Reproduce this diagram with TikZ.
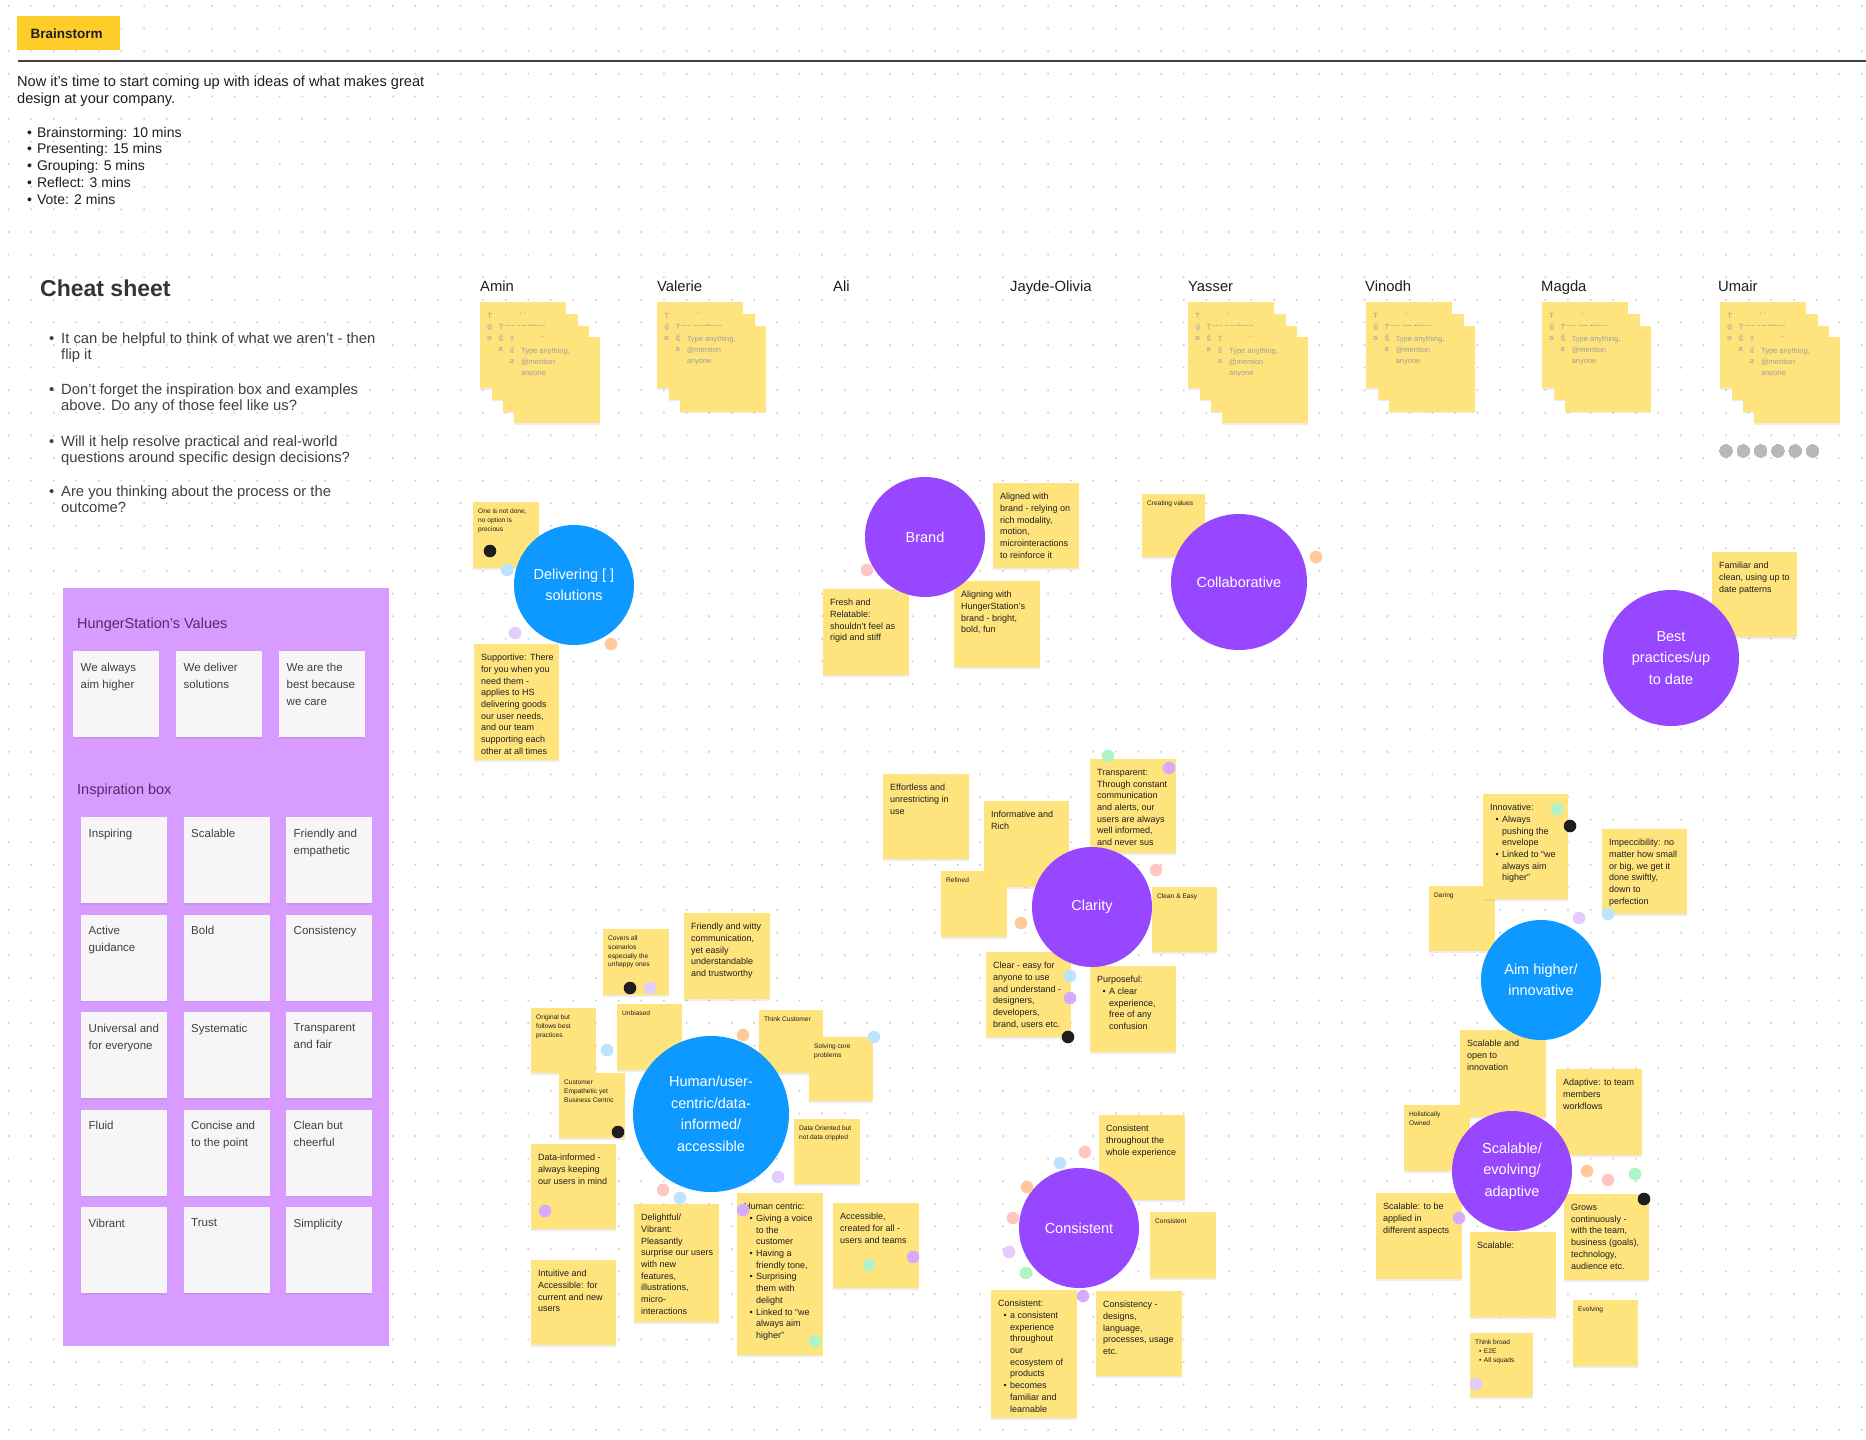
\documentclass[tikz,border=0pt]{standalone}
\usepackage{fontspec}
\setmainfont{Liberation Sans}
\usepackage{tikz}
\usetikzlibrary{shadows}
\usepackage{xcolor}
\definecolor{ink}         {RGB}{30,30,30}
\definecolor{stickyyel}   {RGB}{255,228,125}
\definecolor{labelyel}    {RGB}{255,205,41}
\definecolor{figblue}     {RGB}{13,153,255}
\definecolor{figpurple}   {RGB}{151,71,255}
\definecolor{sectionlilac}{RGB}{216,155,255}
\definecolor{cardgrey}    {RGB}{246,246,246}
\definecolor{griddot}     {RGB}{205,205,205}
\definecolor{headpurple}  {RGB}{80,45,105}
\definecolor{vblack}      {RGB}{30,30,30}
\definecolor{vblue}       {RGB}{189,227,255}
\definecolor{vlilac}      {RGB}{228,204,255}
\definecolor{vpurple}     {RGB}{214,170,255}
\definecolor{vorange}     {RGB}{255,201,154}
\definecolor{vpink}       {RGB}{255,199,194}
\definecolor{vgreen}      {RGB}{175,244,198}

\tikzset{
  notebox/.style={rectangle,fill=stickyyel,inner sep=0pt,
    drop shadow={shadow xshift=0pt,shadow yshift=-1.5pt,opacity=.15}},
  bigtext/.style={inner sep=0pt,align=left,text=ink,xshift=7pt,yshift=-10pt,
    font=\fontsize{9}{11.7}\selectfont},
  smalltext/.style={inner sep=0pt,align=left,text=ink,xshift=5pt,yshift=-7pt,
    font=\fontsize{6.6}{8.6}\selectfont},
  hinttext/.style={inner sep=0pt,align=left,text=black!38,xshift=7pt,yshift=-10.5pt,
    font=\fontsize{7.5}{11}\selectfont},
  topic/.style={circle,inner sep=0pt,text=white,align=center,
    font=\fontsize{14.5}{21.5}\selectfont},
  card/.style={rectangle,fill=cardgrey,inner sep=0pt,minimum size=86pt,anchor=north west,
    drop shadow={shadow xshift=0pt,shadow yshift=-1.5pt,opacity=.15}},
  cardtext/.style={inner sep=0pt,align=left,text=ink!85,anchor=north west,
    xshift=7.5pt,yshift=-11.5pt,font=\fontsize{11.5}{17}\selectfont},
}

% sticky note: [text style]{name}{x}{y}{w}{h}{text}
\newcommand{\stickynote}[7][bigtext]{%
  \node[notebox,minimum width=#5pt,minimum height=#6pt,anchor=north west] (#2) at (#3,#4) {};
  \node[#1,anchor=north west] (#2-txt) at (#2.north west) {#7};}
\newcommand{\blt}{\makebox[1.33em][r]{\textbullet\hspace{0.39em}}}
\newcommand{\bltc}{\hspace*{1.33em}}

\begin{document}
\begin{tikzpicture}[x=1pt,y=-1pt,font=\fontsize{14}{17}\selectfont]
  \useasboundingbox (0,0) rectangle (1866,1440);
  \fill[white] (0,0) rectangle (1866,1440);
  % dot grid
  \foreach \i in {0,...,82}
    \foreach \j in {0,...,63}
      \fill[griddot] ({8.5+22.6*\i},{6+22.6*\j}) circle (1.1pt);

  % header
  \node[fill=labelyel,minimum width=103pt,minimum height=34pt,anchor=north west,inner sep=0pt,
        font=\bfseries\fontsize{13.5}{16}\selectfont,text=ink] (brainstorm) at (17,16) {Brainstorm\hspace*{4pt}};
  \draw[ink!85,line width=1.4pt] (18,61) -- (1866,61);
  \node[anchor=north west,inner sep=0pt,align=left,text=ink,font=\fontsize{14.6}{17}\selectfont]
    (intro) at (17,75.5)
    {Now it’s time to start coming up with ideas of what makes great\\design at your company.};
  \node[anchor=north west,inner sep=0pt,align=left,text=ink,font=\fontsize{14}{16.8}\selectfont]
    (timing) at (27,126.8)
    {\textbullet\hspace{5pt}Brainstorming: 10 mins\\\textbullet\hspace{5pt}Presenting: 15 mins\\
     \textbullet\hspace{5pt}Grouping: 5 mins\\\textbullet\hspace{5pt}Reflect: 3 mins\\
     \textbullet\hspace{5pt}Vote: 2 mins};

  % cheat sheet
  \node[anchor=north west,inner sep=0pt,text=ink!90,font=\bfseries\fontsize{23}{27}\selectfont]
    (cheat) at (40,279.5) {Cheat sheet};
  \foreach \yb/\t [count=\i] in {343/{It can be helpful to think of what we aren’t - then\\\hspace*{12pt}flip it},
      394/{Don’t forget the inspiration box and examples\\\hspace*{12pt}above. Do any of those feel like us?},
      446/{Will it help resolve practical and real-world\\\hspace*{12pt}questions around specific design decisions?},
      496/{Are you thinking about the process or the\\\hspace*{12pt}outcome?}}
    \node[anchor=north west,inner sep=0pt,align=left,text=ink!85,font=\fontsize{14.8}{16.8}\selectfont]
      (tip-\i) at (49,\yb-10.8) {\makebox[12pt][l]{\textbullet}\t};

  % values section
  \fill[sectionlilac] (63,588) rectangle (389,1346);
  \node[anchor=base west,inner sep=0pt,text=headpurple,font=\fontsize{14.5}{17}\selectfont]
    (values-head) at (77,628) {HungerStation’s Values};
  \foreach \t [count=\i from 0] in {{We always\\aim higher},{We deliver\\solutions},{We are the\\best because\\we care}}{
    \node[card] (val-\i) at (73+103*\i,651) {};
    \node[cardtext] (val-\i-txt) at (val-\i.north west) {\t};
  }
  \node[anchor=base west,inner sep=0pt,text=headpurple,font=\fontsize{14.5}{17}\selectfont]
    (insp-head) at (77,794) {Inspiration box};
  \foreach \t [count=\i from 0] in {Inspiring,Scalable,{Friendly and\\empathetic},{Active\\guidance},Bold,
      Consistency,{Universal and\\for everyone},Systematic,{Transparent\\and fair},Fluid,
      {Concise and\\to the point},{Clean but\\cheerful},Vibrant,Trust,Simplicity}{
    \pgfmathtruncatemacro{\coli}{mod(\i,3)}
    \pgfmathtruncatemacro{\rowi}{floor(\i/3)}
    \node[card] (insp-\i) at (81+102.5*\coli,817+97.5*\rowi) {};
    \node[cardtext] (insp-\i-txt) at (insp-\i.north west) {\t};
  }

  % names and their note stacks
  \foreach \nx/\who in {480/Amin,657/Valerie,833/Ali,1010/Jayde-Olivia,1188/Yasser,1365/Vinodh,1541/Magda,1718/Umair}
    \node[anchor=base west,inner sep=0pt,text=ink,font=\fontsize{14.8}{17}\selectfont] (name-\who) at (\nx,291) {\who};
  \foreach \nx/\n in {480/3,657/2,1188/3,1366/2,1542/2,1720/3}
    \foreach \k in {0,...,\n}
      \stickynote[hinttext]{stk-\nx-\k}{\nx+11.3*\k}{302+11.7*\k}{86}{86}{Type anything,\\@mention\\anyone}
  \foreach \k in {0,...,5}
    \fill[black!28] ({1726+17.3*\k},451) circle (6.3pt);

  % delivering
  \stickynote[smalltext]{dlv1}{473}{502}{66}{66}{One is not done,\\no option is\\precious}
  \stickynote{dlv2}{474}{644}{85}{116}{Supportive: There\\for you when you\\need them -\\applies to HS\\delivering goods\\our user needs,\\and our team\\supporting each\\other at all times}
  % brand
  \stickynote{brd1}{993}{483}{86}{85}{Aligned with\\brand - relying on\\rich modality,\\motion,\\microinteractions\\to reinforce it}
  \stickynote{brd2}{823}{589}{86}{86}{Fresh and\\Relatable:\\shouldn’t feel as\\rigid and stiff}
  \stickynote{brd3}{954}{581}{86}{86}{Aligning with\\HungerStation’s\\brand - bright,\\bold, fun}
  % collaborative, best practices
  \stickynote[smalltext]{col1}{1142}{494}{63}{63}{Creating values}
  \stickynote{bst1}{1712}{552}{85}{85}{Familiar and\\clean, using up to\\date patterns}
  % clarity
  \stickynote{clr1}{883}{774}{86}{85}{Effortless and\\unrestricting in\\use}
  \stickynote{clr2}{984}{801}{85}{86}{Informative and\\Rich}
  \stickynote[smalltext]{clr3}{941}{871}{66}{66}{Refined}
  \stickynote{clr4}{1090}{759}{86}{94}{Transparent:\\Through constant\\communication\\and alerts, our\\users are always\\well informed,\\and never sus}
  \stickynote[smalltext]{clr5}{1152}{887}{65}{65}{Clean \& Easy}
  \stickynote{clr6}{986}{952}{85}{85}{Clear - easy for\\anyone to use\\and understand -\\designers,\\developers,\\brand, users etc.}
  \stickynote{clr7}{1090}{966}{86}{86}{Purposeful:\\\blt A clear\\\bltc experience,\\\bltc free of any\\\bltc confusion}
  % human centric
  \stickynote[smalltext]{hum1}{603}{929}{66}{66}{Covers all\\scenarios\\especially the\\unhappy ones}
  \stickynote{hum2}{684}{913}{86}{86}{Friendly and witty\\communication,\\yet easily\\understandable\\and trustworthy}
  \stickynote[smalltext]{hum3}{531}{1008}{65}{65}{Original but\\follows best\\practices}
  \stickynote[smalltext]{hum4}{617}{1004}{65}{66}{Unbiased}
  \stickynote[smalltext]{hum5}{759}{1010}{64}{63}{Think Customer}
  \stickynote[smalltext]{hum6}{809}{1037}{64}{64}{Solving core\\problems}
  \stickynote[smalltext]{hum7}{559}{1073}{66}{65}{Customer\\Empathetic yet\\Business Centric}
  \stickynote[smalltext]{hum8}{794}{1119}{66}{65}{Data Oriented but\\not data crippled}
  \stickynote{hum9}{531}{1144}{85}{85}{Data-informed -\\always keeping\\our users in mind}
  \stickynote{hum10}{634}{1204}{85}{118}{Delightful/\\Vibrant:\\Pleasantly\\surprise our users\\with new\\features,\\illustrations,\\micro-\\interactions}
  \stickynote{hum11}{737}{1193}{86}{162}{Human centric:\\\blt Giving a voice\\\bltc to the\\\bltc customer\\\blt Having a\\\bltc friendly tone,\\\blt Surprising\\\bltc them with\\\bltc delight\\\blt Linked to ``we\\\bltc always aim\\\bltc higher''}
  \stickynote{hum12}{833}{1203}{86}{85}{Accessible,\\created for all -\\users and teams}
  \stickynote{hum13}{531}{1260}{85}{85}{Intuitive and\\Accessible: for\\current and new\\users}
  % consistent
  \stickynote{cns1}{1099}{1115}{86}{85}{Consistent\\throughout the\\whole experience}
  \stickynote[smalltext]{cns2}{1150}{1212}{66}{66}{Consistent}
  \stickynote{cns3}{991}{1290}{86}{128}{Consistent:\\\blt a consistent\\\bltc experience\\\bltc throughout\\\bltc our\\\bltc ecosystem of\\\bltc products\\\blt becomes\\\bltc familiar and\\\bltc learnable}
  \stickynote{cns4}{1096}{1291}{86}{85}{Consistency -\\designs,\\language,\\processes, usage\\etc.}
  % aim higher, scalable
  \stickynote[smalltext]{aim1}{1429}{886}{66}{65}{Daring}
  \stickynote{aim2}{1483}{794}{85}{105}{Innovative:\\\blt Always\\\bltc pushing the\\\bltc envelope\\\blt Linked to ``we\\\bltc always aim\\\bltc higher''}
  \stickynote{aim3}{1602}{829}{85}{85}{Impeccibility: no\\matter how small\\or big, we get it\\done swiftly,\\down to\\perfection}
  \stickynote{aim4}{1460}{1030}{86}{87}{Scalable and\\open to\\innovation}
  \stickynote{aim5}{1556}{1069}{86}{86}{Adaptive: to team\\members\\workflows}
  \stickynote[smalltext]{aim6}{1404}{1105}{66}{66}{Holistically\\Owned}
  \stickynote{aim7}{1376}{1193}{86}{86}{Scalable: to be\\applied in\\different aspects}
  \stickynote{aim8}{1470}{1232}{86}{85}{Scalable:}
  \stickynote{aim9}{1564}{1194}{85}{86}{Grows\\continuously -\\with the team,\\business (goals),\\technology,\\audience etc.}
  \stickynote[smalltext]{aim10}{1573}{1300}{65}{66}{Evolving}
  \stickynote[smalltext]{aim11}{1470}{1333}{63}{64}{Think broad\\\blt E2E\\\blt All squads}

  % topic circles
  \node[topic,fill=figblue,minimum size=120pt]   (delivering)    at (574,585)  {Delivering [ ]\\solutions};
  \node[topic,fill=figpurple,minimum size=120pt] (brand)         at (925,537)  {Brand};
  \node[topic,fill=figpurple,minimum size=136pt] (collaborative) at (1239,582) {Collaborative};
  \node[topic,fill=figpurple,minimum size=136pt] (bestpractices) at (1671,658) {Best\\practices/up\\to date};
  \node[topic,fill=figpurple,minimum size=120pt] (clarity)       at (1092,907) {Clarity};
  \node[topic,fill=figblue,minimum size=156pt]   (humancentric)  at (711,1114) {Human/user-\\centric/data-\\informed/\\accessible};
  \node[topic,fill=figpurple,minimum size=120pt] (consistent)    at (1079,1228) {Consistent};
  \node[topic,fill=figblue,minimum size=120pt]   (aimhigher)     at (1541,980) {Aim higher/\\innovative};
  \node[topic,fill=figpurple,minimum size=120pt] (scalable)      at (1512,1171) {Scalable/\\evolving/\\adaptive};

  % voting dots
  \foreach \x/\y/\c in {490/551/vblack,507/570/vblue,515/633/vlilac,611/644/vorange,867/570/vpink,
      1316/557/vorange,1108/756/vgreen,1169/768/vpurple,1156/870/vpink,1021/923/vorange,
      1070/976/vblue,1070/998/vpurple,1068/1037/vblack,630/988/vblack,650/988/vlilac,
      607/1050/vblue,743/1035/vorange,874/1037/vblue,618/1132/vblack,778/1177/vlilac,
      545/1211/vpurple,663/1190/vpink,680/1198/vblue,743/1210/vpurple,815/1341/vgreen,
      869/1265/vgreen,913/1257/vpurple,1085/1152/vpink,1060/1163/vblue,1027/1187/vorange,
      1013/1218/vpink,1009/1252/vlilac,1026/1273/vgreen,1083/1296/vpurple,1557/809/vgreen,
      1570/826/vblack,1579/918/vlilac,1608/914/vblue,1587/1171/vorange,1608/1180/vpink,
      1635/1174/vgreen,1644/1199/vblack,1459/1218/vpurple,1476/1384/vlilac}
    \fill[\c] (\x,\y) circle (6.3pt);
\end{tikzpicture}
\end{document}
